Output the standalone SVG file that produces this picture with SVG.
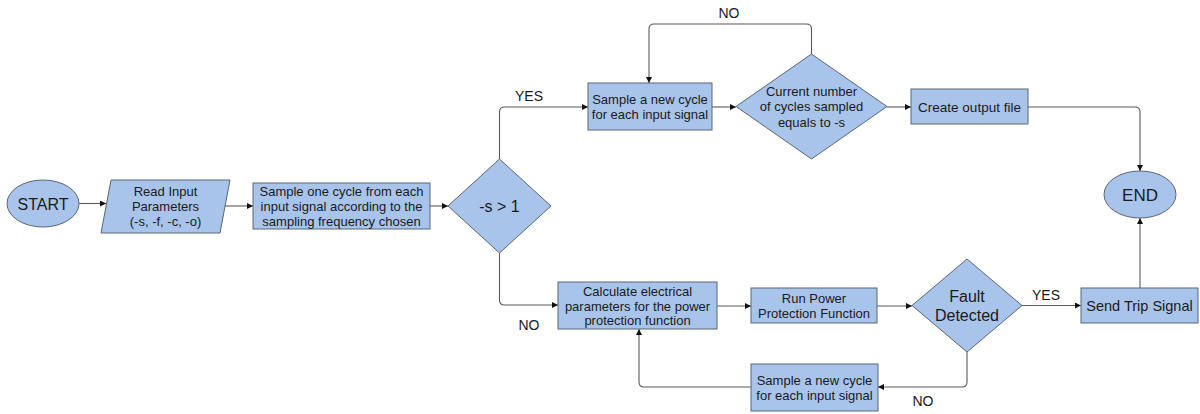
<svg xmlns="http://www.w3.org/2000/svg" width="1200" height="414" viewBox="0 0 1200 414">
<style>
.s{fill:#A9C4EB;stroke:#5b6675;stroke-width:1}
.t{font-family:"Liberation Sans",Arial,sans-serif;font-size:13px;fill:#1a1a1a;text-anchor:middle}
.big{font-size:16px}
.lbl{font-family:"Liberation Sans",Arial,sans-serif;font-size:14px;fill:#1a1a1a;text-anchor:middle}
.c{fill:none;stroke:#5a5a5a;stroke-width:1.1;marker-end:url(#ah)}
</style>
<defs>
<marker id="ah" markerUnits="userSpaceOnUse" markerWidth="8" markerHeight="8" refX="6" refY="3" orient="auto">
<path d="M0,0 L6,3 L0,6 Z" fill="#111"/>
</marker>
</defs>
<rect width="1200" height="414" fill="#ffffff"/>
<g id="connectors">
<path class="c" d="M79 203.5 H106"/>
<path class="c" d="M225 206 H253"/>
<path class="c" d="M430 206 H448"/>
<path class="c" d="M499.5 159 V112 Q499.5 107 504.5 107 H588"/>
<path class="c" d="M499.5 253 V300 Q499.5 305 504.5 305 H558"/>
<path class="c" d="M712 107 H736"/>
<path class="c" d="M811.5 54 V29 Q811.5 24 806.5 24 H654 Q649 24 649 29 V83"/>
<path class="c" d="M887 107 H911"/>
<path class="c" d="M1028 107 H1135 Q1140 107 1140 112 V171"/>
<path class="c" d="M717 306 H751"/>
<path class="c" d="M877 306 H912"/>
<path class="c" d="M1022 305.5 H1081"/>
<path class="c" d="M1140 288 V218"/>
<path class="c" d="M967 352 V382 Q967 387 962 387 H878"/>
<path class="c" d="M751 387 H644 Q639 387 639 382 V329"/>
<text class="lbl" x="729" y="18">NO</text>
<text class="lbl" x="529" y="101">YES</text>
<text class="lbl" x="529" y="330">NO</text>
<text class="lbl" x="1046" y="300">YES</text>
<text class="lbl" x="923" y="406">NO</text>
</g>
<g id="start">
<ellipse class="s" cx="43" cy="203.5" rx="36" ry="23.5"/>
<text class="t big" x="43" y="209.5">START</text>
</g>
<g id="read-input">
<polygon class="s" points="111,180 230,180 220,233 101,233"/>
<text class="t" x="165.5" y="195.5">Read Input</text>
<text class="t" x="165.5" y="210.5">Parameters</text>
<text class="t" x="165.5" y="225.5">(-s, -f, -c, -o)</text>
</g>
<g id="sample-one">
<rect class="s" x="253" y="183" width="177" height="46"/>
<text class="t" x="341.5" y="195.5">Sample one cycle from each</text>
<text class="t" x="341.5" y="210.5">input signal according to the</text>
<text class="t" x="341.5" y="225.5">sampling frequency chosen</text>
</g>
<g id="decision-s">
<polygon class="s" points="499.5,159 551,206 499.5,253 448,206"/>
<text class="t big" x="499.5" y="211.5">-s &gt; 1</text>
</g>
<g id="sample-new-top">
<rect class="s" x="588" y="83" width="124" height="47"/>
<text class="t" x="650" y="103.5">Sample a new cycle</text>
<text class="t" x="650" y="118.5">for each input signal</text>
</g>
<g id="decision-cycles">
<polygon class="s" points="811.5,54 887,106.5 811.5,159 736,106.5"/>
<text class="t" x="811.5" y="95.5">Current number</text>
<text class="t" x="811.5" y="111">of cycles sampled</text>
<text class="t" x="811.5" y="126.5">equals to -s</text>
</g>
<g id="create-output">
<rect class="s" x="911" y="89" width="117" height="35"/>
<text class="t" style="font-size:13.5px" x="969.5" y="111.5">Create output file</text>
</g>
<g id="end">
<ellipse class="s" cx="1140" cy="194.5" rx="36" ry="23.5"/>
<text class="t" style="font-size:17px" x="1140" y="200.5">END</text>
</g>
<g id="calculate">
<rect class="s" x="558" y="282" width="159" height="47"/>
<text class="t" x="637.5" y="295.5">Calculate electrical</text>
<text class="t" x="637.5" y="310.5">parameters for the power</text>
<text class="t" x="637.5" y="325">protection function</text>
</g>
<g id="run-power">
<rect class="s" x="751" y="288" width="126" height="35"/>
<text class="t" x="814" y="302.5">Run Power</text>
<text class="t" x="814" y="318">Protection Function</text>
</g>
<g id="fault">
<polygon class="s" points="967,259 1022,305.5 967,352 912,305.5"/>
<text class="t big" x="967" y="302">Fault</text>
<text class="t big" x="967" y="321">Detected</text>
</g>
<g id="send-trip">
<rect class="s" x="1081" y="288" width="117" height="35"/>
<text class="t" style="font-size:14.5px" x="1139.5" y="310.5">Send Trip Signal</text>
</g>
<g id="sample-new-bottom">
<rect class="s" x="751" y="364" width="127" height="47"/>
<text class="t" x="814.5" y="384.5">Sample a new cycle</text>
<text class="t" x="814.5" y="400">for each input signal</text>
</g>
</svg>
